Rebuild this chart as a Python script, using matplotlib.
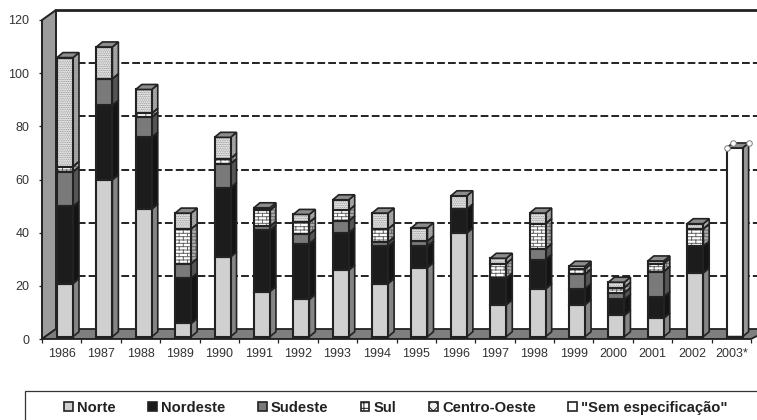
import numpy as np
import matplotlib
matplotlib.use('Agg')
import matplotlib.pyplot as plt
import matplotlib.hatch as mhatch
from matplotlib.patches import Polygon, Rectangle, Patch
from matplotlib.path import Path

anos = ['1986', '1987', '1988', '1989', '1990', '1991', '1992', '1993', '1994',
        '1995', '1996', '1997', '1998', '1999', '2000', '2001', '2002', '2003*']
norte = [20, 59, 48, 5, 30, 17, 14, 25, 20, 26, 39, 12, 18, 12, 8, 7, 24, 0]
nordeste = [29, 28, 27, 17, 26, 23, 21, 14, 14, 8, 9, 10, 11, 6, 6, 8, 10, 0]
sudeste = [13, 10, 7.5, 5.5, 9, 1.5, 3.5, 4.5, 1.5, 2, 0, 0, 4, 5.5, 2.5, 9.5, 0, 0]
sul = [2, 0, 1.5, 13, 2, 6, 4.5, 4, 5, 0, 0, 5.5, 9.5, 2, 2, 3, 6.5, 0]
centro_oeste = [41, 12, 9, 6, 8, 1, 3, 4, 6, 5, 5, 2, 4, 1, 2, 1, 2, 0]
sem_espec = [0, 0, 0, 0, 0, 0, 0, 0, 0, 0, 0, 0, 0, 0, 0, 0, 0, 71]
nomes = ['Norte', 'Nordeste', 'Sudeste', 'Sul', 'Centro-Oeste', '"Sem especificação"']
y_ticks = [0, 20, 40, 60, 80, 100, 120]


# tijolos para a serie Sul
class BrickHatch(mhatch.HatchPatternBase):
    def __init__(self, hatch, density):
        self.num_rows = hatch.count('B') * 30
        self.num_cols = 12
        self.num_vertices = self.num_rows * 2 + self.num_rows * self.num_cols * 2

    def set_vertices_and_codes(self, vertices, codes):
        k = 0
        n = self.num_rows
        for r in range(n):
            y = r / n
            vertices[k] = (0, y)
            vertices[k + 1] = (1, y)
            k += 2
            for c in range(self.num_cols):
                x = (c + 0.5 * (r % 2)) / self.num_cols
                vertices[k] = (x, y)
                vertices[k + 1] = (x, y + 1 / n)
                k += 2
        codes[0::2] = Path.MOVETO
        codes[1::2] = Path.LINETO


mhatch._hatch_types.append(BrickHatch)

plt.rcParams['font.family'] = ['Liberation Sans', 'DejaVu Sans']
plt.rcParams['hatch.linewidth'] = 0.7

W, H = 757, 420
fig = plt.figure(figsize=(W / 100, H / 100), dpi=100, facecolor='white')
ax = fig.add_axes([42 / W, 1 - 339 / H, 709 / W, 319 / H])
ax.set_xlim(-0.5, 17.5)
ax.set_ylim(0, 120)

# profundidade do grafico 3D, em unidades de dados
px = 1 / 39.4
py = 120 / 319
dx_wall, dy_wall = 14 * px, 10 * py
dx_bar, dy_bar = 6 * px, 5 * py
bar_w = 16 * px
bar_off = 3.3 * px
base = 2.3 * py
x_ini, x_fim = -0.5, 17.5
x_clip = x_fim + 6 * px
preto = '#222222'

# parede e chao
ax.add_patch(Polygon([(x_ini, 0), (x_ini + dx_wall, dy_wall), (x_ini + dx_wall, 120 + dy_wall), (x_ini, 120)],
                     fc='#9c9c9c', ec=preto, lw=1.4, clip_on=False, zorder=1))
ax.add_patch(Polygon([(x_ini, 0), (x_ini + dx_wall, dy_wall), (x_clip + dx_wall, dy_wall), (x_fim, 0)],
                     fc='#7f7f7f', ec=preto, lw=1.3, clip_on=False, zorder=1))
ax.plot([x_ini + dx_wall, x_clip], [120 + dy_wall] * 2, color=preto, lw=2, clip_on=False, zorder=1)
for v in y_ticks[1:-1]:
    ax.plot([x_ini + dx_wall, x_clip], [v + dy_wall] * 2, color=preto, lw=1.4,
            ls=(0, (4, 1.6)), clip_on=False, zorder=1.5)

series = [norte, nordeste, sudeste, sul, centro_oeste, sem_espec]
cores = ['#d0d0d0', '#1c1c1c', '#7a7a7a', 'white', '#f2f2f2', 'white']
hatches = [None, None, None, 'B', '.........', None]
cor_hatch = ['none', 'none', 'none', '#666666', '#8a8a8a', 'none']
lados = ['#858585', '#141414', '#555555', '#aaaaaa', '#b0b0b0', '#999999']
x = np.arange(len(anos)) + bar_off

bottom = np.full(len(anos), base)
for s, cor, h, ch, lado in zip(series, cores, hatches, cor_hatch, lados):
    vals = np.array(s, dtype=float)
    # a cor da hachura vem de edgecolor, entao o contorno vai numa segunda passada
    ax.bar(x, vals, bar_w, bottom=bottom, color=cor, hatch=h, edgecolor=ch, lw=0, zorder=4)
    ax.bar(x, vals, bar_w, bottom=bottom, fill=False, edgecolor=preto, lw=1.5, zorder=4.5)
    for xi, b, v in zip(x, bottom, vals):
        if v == 0:
            continue
        xr = xi + bar_w / 2
        pts = [(xr, b), (xr + dx_bar, b + dy_bar), (xr + dx_bar, b + v + dy_bar), (xr, b + v)]
        ax.add_patch(Polygon(pts, fc=lado, hatch=h, ec=ch, lw=0, clip_on=False, zorder=3))
        ax.add_patch(Polygon(pts, fill=False, ec=preto, lw=1.2, clip_on=False, zorder=3.5))
    bottom = bottom + vals

# tampa das barras
for xi, t in zip(x, bottom):
    xl = xi - bar_w / 2
    ax.add_patch(Polygon([(xl, t), (xl + dx_bar, t + dy_bar), (xl + bar_w + dx_bar, t + dy_bar), (xl + bar_w, t)],
                         fc='#8c8c8c', ec=preto, lw=1.2, clip_on=False, zorder=5))

# pontos de selecao da barra 2003
xl = x[-1] - bar_w / 2
ax.plot([xl, xl + dx_bar, xl + bar_w + dx_bar], [bottom[-1], bottom[-1] + dy_bar, bottom[-1] + dy_bar],
        ls='none', marker='o', ms=4, mfc='white', mec='#777777', mew=0.7, clip_on=False, zorder=6)

for s in ['top', 'right', 'bottom', 'left']:
    ax.spines[s].set_visible(False)
ax.set_xticks(np.arange(-0.5, 18, 1))
ax.set_xticklabels([])
ax.set_xticks(np.arange(len(anos)), labels=anos, minor=True)
ax.tick_params(axis='x', which='major', length=3, width=0.9, color=preto)
ax.tick_params(axis='x', which='minor', length=0, pad=6.5, labelsize=9, labelcolor='#333333')
ax.set_yticks(y_ticks)
ax.tick_params(axis='y', length=2, width=0.9, color=preto, pad=7, labelsize=9, labelcolor='#333333')
ax.plot([x_ini, x_fim], [0, 0], color=preto, lw=1.3, zorder=2)

# moldura da legenda, sai pela direita e por baixo da imagem
fig.add_artist(Rectangle((25 / W, -0.05), 1, 1 - 391 / H + 0.05, transform=fig.transFigure,
                         fc='none', ec='#333333', lw=0.9))
marcas = [None, None, None, '+++', 'xxx', None]
handles = [Patch(facecolor=c, edgecolor=preto, hatch=m, lw=1.2) for c, m in zip(cores, marcas)]
fig.legend(handles, nomes, ncol=6, loc='center', bbox_to_anchor=(396 / W, 1 - 408 / H), frameon=False,
           handlelength=0.58, handleheight=0.58, handletextpad=0.3, columnspacing=2.2, borderpad=0,
           labelcolor='#222222', prop={'weight': 'bold', 'size': 10.6})

fig.savefig('out.png', dpi=100)
